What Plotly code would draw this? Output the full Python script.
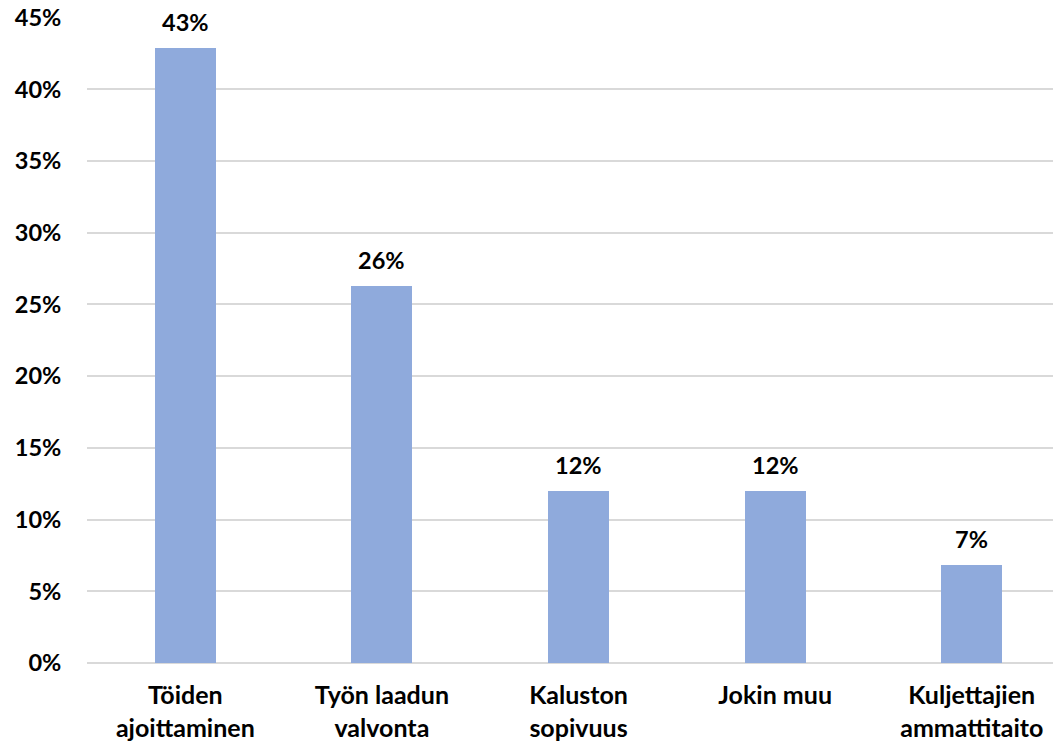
import plotly.graph_objects as go

categories = ["Töiden<br>ajoittaminen", "Työn laadun<br>valvonta", "Kaluston<br>sopivuus", "Jokin muu", "Kuljettajien<br>ammattitaito"]
values = [0.429, 0.263, 0.120, 0.120, 0.068]
labels = ["43%", "26%", "12%", "12%", "7%"]
y_ticks = [0, 0.05, 0.10, 0.15, 0.20, 0.25, 0.30, 0.35, 0.40, 0.45]
y_tick_text = ["0%", "5%", "10%", "15%", "20%", "25%", "30%", "35%", "40%", "45%"]

FONT = "Lato"
FS = 23.5
FSX = 25
xs = list(range(len(categories)))

fig = go.Figure(go.Bar(
    x=xs,
    y=values,
    marker=dict(color="#8FAADC", line=dict(width=0)),
    width=0.31,
))

for xi, v, lab in zip(xs, values, labels):
    fig.add_annotation(
        x=xi, y=v, text=lab, showarrow=False,
        xanchor="center", yanchor="bottom", yshift=10,
        font=dict(family=FONT, size=FS, color="#000000", weight="bold"),
    )

fig.update_layout(
    width=1053, height=734,
    margin=dict(l=79, r=0, t=9, b=79, autoexpand=False),
    paper_bgcolor="white", plot_bgcolor="white",
    showlegend=False,
    font=dict(family=FONT, size=FS, color="#000000", weight="bold"),
    bargap=0,
)
fig.update_xaxes(
    tickmode="array", tickvals=xs, ticktext=categories,
    range=[-0.5, 4.454], automargin=False,
    showgrid=False, zeroline=False, showline=False,
    ticks="outside", ticklen=10, tickcolor="rgba(0,0,0,0)",
    ticklabeloverflow="allow",
    tickfont=dict(family=FONT, size=FSX, color="#000000", weight="bold"),
)
fig.update_yaxes(
    range=[0, 0.4504], automargin=False,
    tickmode="array", tickvals=y_ticks, ticktext=y_tick_text,
    showgrid=True, gridcolor="#D9D9D9", gridwidth=1.5,
    zeroline=True, zerolinecolor="#D9D9D9", zerolinewidth=1.5,
    showline=False,
    ticks="outside", ticklen=20, tickcolor="rgba(0,0,0,0)",
    ticklabeloverflow="allow",
    tickfont=dict(family=FONT, size=FS, color="#000000", weight="bold"),
)

fig.write_html("out.html")
